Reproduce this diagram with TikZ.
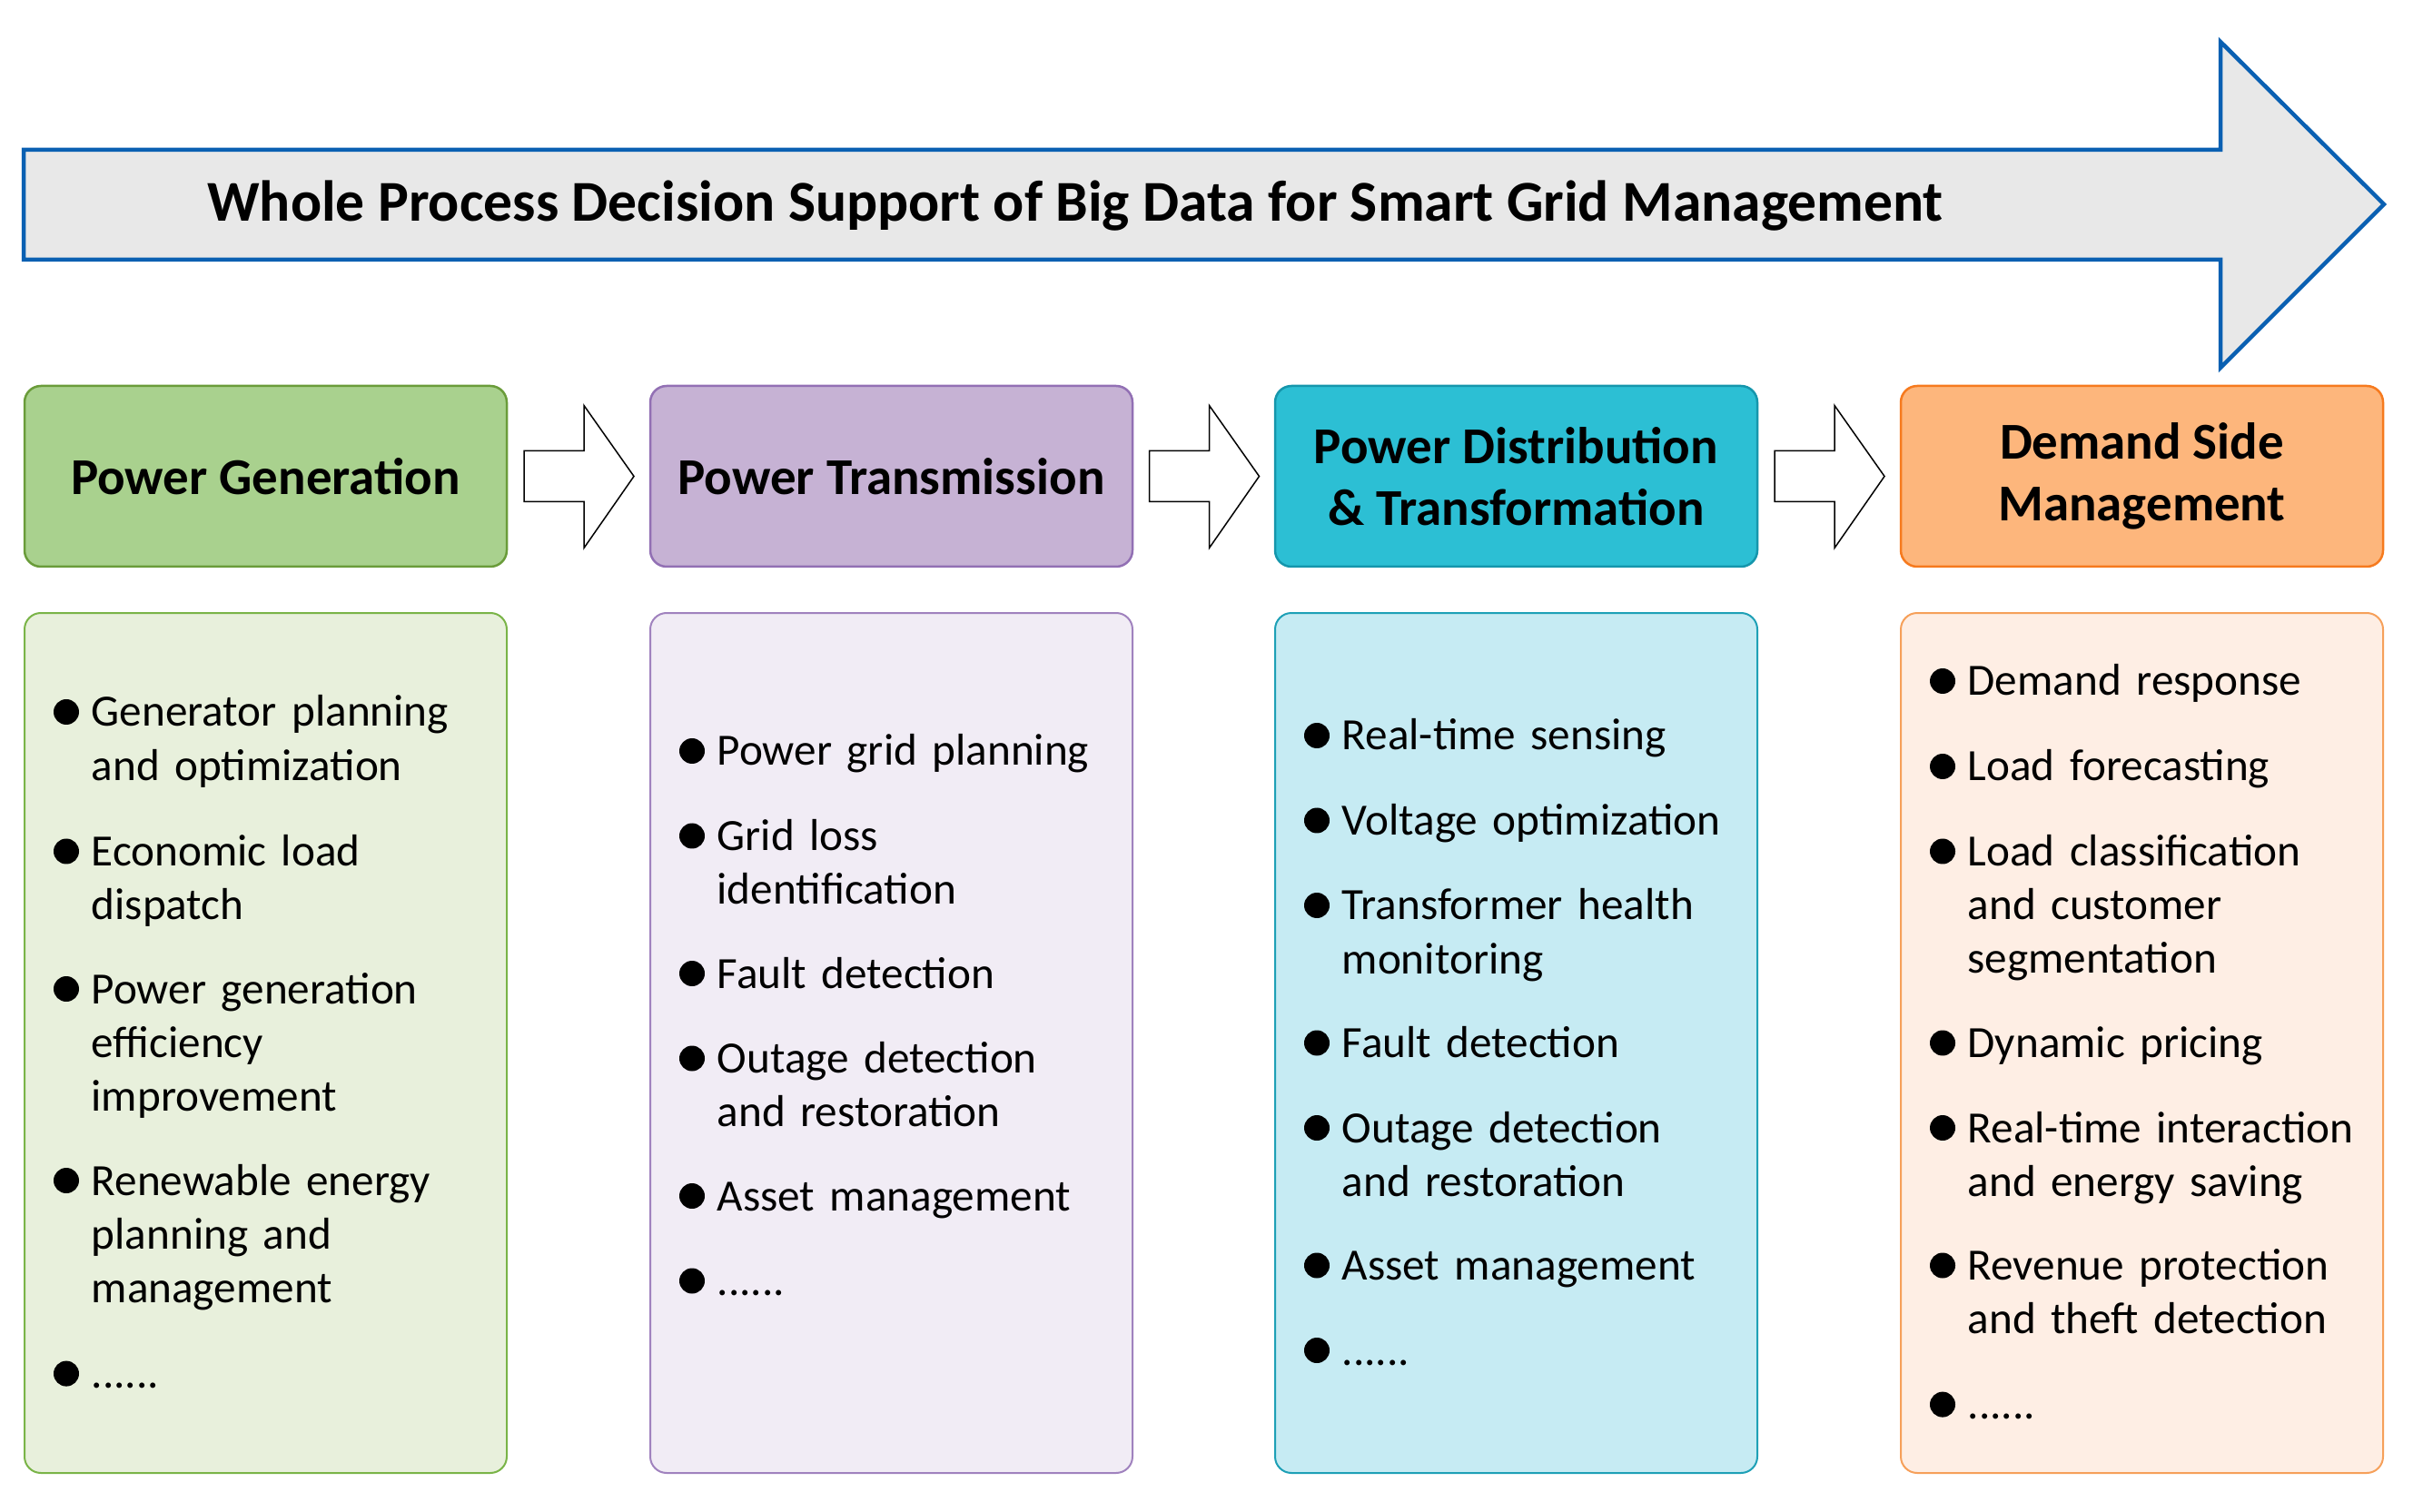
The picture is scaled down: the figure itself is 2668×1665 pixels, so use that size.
\documentclass[tikz,border=0pt]{standalone}
\usepackage{fontspec}
\setmainfont{Carlito}
\usetikzlibrary{calc}
\definecolor{arrowblue}{RGB}{10,96,178}
\definecolor{arrowfill}{RGB}{232,232,232}
\definecolor{gH}{RGB}{169,209,142}\definecolor{gHd}{RGB}{106,156,58}
\definecolor{gB}{RGB}{232,240,220}\definecolor{gBd}{RGB}{122,180,72}
\definecolor{pH}{RGB}{198,178,212}\definecolor{pHd}{RGB}{146,112,180}
\definecolor{pB}{RGB}{241,236,245}\definecolor{pBd}{RGB}{160,130,190}
\definecolor{cH}{RGB}{44,191,212}\definecolor{cHd}{RGB}{21,150,172}
\definecolor{cB}{RGB}{198,235,243}\definecolor{cBd}{RGB}{30,160,182}
\definecolor{oH}{RGB}{253,182,124}\definecolor{oHd}{RGB}{246,122,30}
\definecolor{oB}{RGB}{254,238,228}\definecolor{oBd}{RGB}{246,160,90}
\begin{document}
\begin{tikzpicture}[x=0.1mm,y=-0.1mm,
  hdr/.style={rounded corners=1.8mm, minimum width=53.1mm, minimum height=19.9mm,
    line width=0.25mm, align=center, inner sep=0pt,
    font=\fontsize{16.2}{19.3}\selectfont\bfseries},
  bodybox/.style={rounded corners=1.8mm, minimum width=53.1mm, minimum height=94.7mm,
    line width=0.2mm, inner sep=0pt},
  itm/.style={anchor=base west, inner sep=0pt, text width=46mm, align=left,
    font=\fontsize{14}{16.8}\selectfont},
  dot/.style={fill=black},
  flowarrow/.style={draw=black, fill=white, line width=0.15mm, line join=miter}
]
\useasboundingbox (0,0) rectangle (2668,1665);

% big arrow
\draw[draw=arrowblue, fill=arrowfill, line width=0.45mm, line join=miter]
  (26,165) -- (2445,165) -- (2445,46) -- (2625,225) -- (2445,405) -- (2445,286) -- (26,286) -- cycle;
\node[font=\fontsize{18.1}{21}\selectfont\bfseries, inner sep=0pt] (title) at (1184,227)
  {Whole Process Decision Support of Big Data for Smart Grid Management};

% header boxes
\node[hdr, fill=gH, draw=gHd] (h1) at (292.5,524.5) {Power Generation};
\node[hdr, fill=pH, draw=pHd] (h2) at (981.5,524.5) {Power Transmission};
\node[hdr, fill=cH, draw=cHd] (h3) at (1669.5,524.5) {Power Distribution\\\& Transformation};
\node[hdr, fill=oH, draw=oHd] (h4) at (2358.5,524.5) {Demand Side\\Management\vphantom{\&}};

% arrows between headers
\coordinate (m12) at ($(h1.east)!0.5!(h2.west)$);
\coordinate (m23) at ($(h2.east)!0.5!(h3.west)$);
\coordinate (m34) at ($(h3.east)!0.5!(h4.west)$);
\foreach \m in {m12,m23,m34}{
  \draw[flowarrow] ($(\m)+(-60,-28)$) -- ($(\m)+(6,-28)$) -- ($(\m)+(6,-78)$)
    -- ($(\m)+(61,0)$) -- ($(\m)+(6,79)$) -- ($(\m)+(6,28)$) -- ($(\m)+(-60,28)$) -- cycle;
}

% body boxes
\node[bodybox, fill=gB, draw=gBd] (b1) at (292.5,1148.5) {};
\node[bodybox, fill=pB, draw=pBd] (b2) at (981.5,1148.5) {};
\node[bodybox, fill=cB, draw=cBd] (b3) at (1669.5,1148.5) {};
\node[bodybox, fill=oB, draw=oBd] (b4) at (2358.5,1148.5) {};

% column 1
\foreach \y in {784,937.5,1089,1300,1512.6} \fill[dot] (73,\y) circle[radius=1.4mm];
\node[itm] (a1) at (100,800) {Generator planning\\and optimization};
\node[itm] (a2) at (100,953.5) {Economic load\\dispatch};
\node[itm] (a3) at (100,1105) {Power generation\\efficiency\\improvement};
\node[itm] (a4) at (100,1316) {Renewable energy\\planning and\\management};
\node[itm] (a5) at (100,1528.6) {......};

% column 2
\foreach \y in {827,920.5,1072,1165.5,1317,1410.5} \fill[dot] (762,\y) circle[radius=1.4mm];
\node[itm] (c1) at (789,843) {Power grid planning};
\node[itm] (c2) at (789,936.5) {Grid loss\\identification};
\node[itm] (c3) at (789,1088) {Fault detection};
\node[itm] (c4) at (789,1181.5) {Outage detection\\and restoration};
\node[itm] (c5) at (789,1333) {Asset management};
\node[itm] (c6) at (789,1426.5) {......};

% column 3
\foreach \y in {810,903.5,997,1148.5,1242,1393.5,1487} \fill[dot] (1450,\y) circle[radius=1.4mm];
\node[itm] (d1) at (1477,826) {Real-time sensing};
\node[itm] (d2) at (1477,919.5) {Voltage optimization};
\node[itm] (d3) at (1477,1013) {Transformer health\\monitoring};
\node[itm] (d4) at (1477,1164.5) {Fault detection};
\node[itm] (d5) at (1477,1258) {Outage detection\\and restoration};
\node[itm] (d6) at (1477,1409.5) {Asset management};
\node[itm] (d7) at (1477,1503) {......};

% column 4
\foreach \y in {750,844,937.5,1148.5,1242,1393.5,1546.6} \fill[dot] (2139,\y) circle[radius=1.4mm];
\node[itm] (e1) at (2166,766) {Demand response};
\node[itm] (e2) at (2166,860) {Load forecasting};
\node[itm] (e3) at (2166,953.5) {Load classification\\and customer\\segmentation};
\node[itm] (e4) at (2166,1164.5) {Dynamic pricing};
\node[itm] (e5) at (2166,1258) {Real-time interaction\\and energy saving};
\node[itm] (e6) at (2166,1409.5) {Revenue protection\\and theft detection};
\node[itm] (e7) at (2166,1562.6) {......};
\end{tikzpicture}
\end{document}
